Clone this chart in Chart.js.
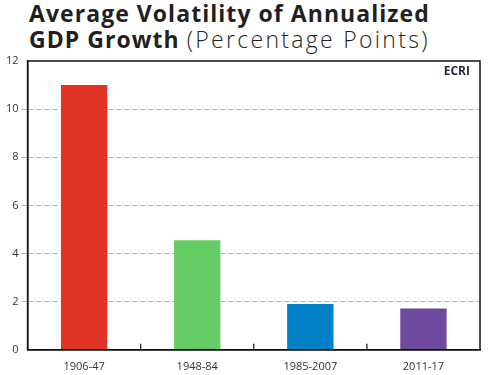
<!DOCTYPE html>
<html>
<head>
<meta charset="utf-8">
<script src="https://cdn.jsdelivr.net/npm/chart.js@4/dist/chart.umd.min.js"></script>
<style>
  html, body { margin: 0; padding: 0; background: #fff; }
  #wrap { position: relative; width: 495px; height: 375px; }
  #title {
    position: absolute; left: 29px; top: 0px;
    font-family: "Open Sans", sans-serif; font-size: 23px; line-height: 26px;
    color: #231f20; font-weight: 700; letter-spacing: 1.05px;
  }
  #title .light { font-weight: 300; letter-spacing: 2.3px; }
  canvas { position: absolute; left: 0; top: 0; }
</style>
</head>
<body>
<div id="wrap">
  <div id="title">Average Volatility of Annualized<br>GDP Growth <span class="light">(Percentage Points)</span></div>
  <canvas id="chart" width="495" height="375"></canvas>
</div>
<script>
const periods = ['1906-47', '1948-84', '1985-2007', '2011-17'];
const volatility = [11.0, 4.55, 1.9, 1.72];
const barColors = ['#e03426', '#66cc66', '#0080c6', '#6e4a9e'];
const yTicks = [0, 2, 4, 6, 8, 10, 12];

// box around the plot, little inside ticks between bars, and the ECRI mark
const frame = {
    id: 'frame',
    afterDraw(chart) {
        const { ctx, chartArea: a, scales } = chart;
        ctx.save();
        ctx.strokeStyle = '#111';
        ctx.lineWidth = 1.5;
        ctx.strokeRect(a.left, a.top, a.right - a.left, a.bottom - a.top);
        ctx.lineWidth = 1.2;
        for (let i = 0; i < periods.length - 1; i++) {
            const x = (scales.x.getPixelForTick(i) + scales.x.getPixelForTick(i + 1)) / 2;
            ctx.beginPath();
            ctx.moveTo(x, a.bottom);
            ctx.lineTo(x, a.bottom - 6);
            ctx.stroke();
        }
        ctx.font = 'bold 12px "Open Sans", sans-serif';
        ctx.fillStyle = '#1d2a44';
        ctx.textAlign = 'right';
        ctx.textBaseline = 'top';
        ctx.fillText('ECRI', a.right - 10, a.top + 5);
        ctx.restore();
    }
};

new Chart(document.getElementById('chart').getContext('2d'), {
    type: 'bar',
    data: {
        labels: periods,
        datasets: [{
            data: volatility,
            backgroundColor: barColors,
            borderWidth: 0,
            barPercentage: 0.41,
            categoryPercentage: 1
        }]
    },
    options: {
        responsive: false,
        animation: false,
        layout: { padding: { top: 61, right: 15, left: 3, bottom: -8 } },
        plugins: {
            legend: { display: false },
            tooltip: { enabled: false }
        },
        scales: {
            y: {
                min: 0,
                max: 12,
                afterBuildTicks: scale => { scale.ticks = yTicks.map(v => ({ value: v })); },
                ticks: {
                    color: '#333',
                    font: { family: '"Open Sans", sans-serif', size: 11 },
                    padding: 3
                },
                grid: {
                    color: ctx => (ctx.tick.value === 0 || ctx.tick.value === 12) ? 'rgba(0,0,0,0)' : '#b0b0b0',
                    tickColor: ctx => (ctx.tick.value === 0 || ctx.tick.value === 12) ? 'rgba(0,0,0,0)' : '#b0b0b0',
                    tickLength: 6,
                    tickBorderDash: [5, 3],
                    lineWidth: 1
                },
                border: { color: '#111', width: 1.5, dash: [5, 3] }
            },
            x: {
                ticks: {
                    color: '#333',
                    font: { family: '"Open Sans", sans-serif', size: 11 },
                    padding: 10
                },
                grid: { display: false, drawTicks: false },
                border: { color: '#111', width: 1.5 }
            }
        }
    },
    plugins: [frame]
});
</script>
</body>
</html>
